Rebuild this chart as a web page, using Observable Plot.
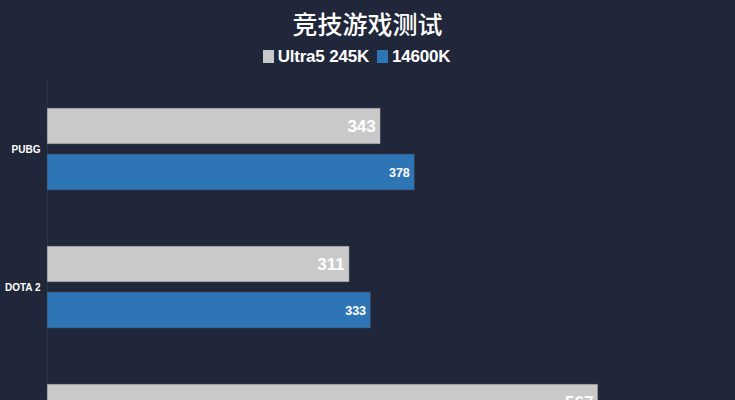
<!DOCTYPE html>
<html>
<head>
<meta charset="utf-8">
<script src="https://cdn.jsdelivr.net/npm/d3@7"></script>
<script src="https://cdn.jsdelivr.net/npm/@observablehq/plot@0.6"></script>
<style>
  html, body { margin: 0; padding: 0; background: #21273a; overflow: hidden; }
  #wrap { width: 735px; font-family: "Liberation Sans", Arial, sans-serif; color: #fff; }
  #title { height: 44px; line-height: 46px; text-align: center; font-size: 25px; font-family: "Noto Sans CJK SC", sans-serif; font-weight: 500; }
  #legend { height: 24px; line-height: 25px; text-align: center; font-size: 17px; font-weight: bold; letter-spacing: -0.2px; padding-right: 22px; }
  .sw { display: inline-block; width: 11px; height: 13px; vertical-align: -1px; margin-right: 4px; }
  .item { margin: 0 4px; }
</style>
</head>
<body>
<div id="wrap">
  <div id="title">竞技游戏测试</div>
  <div id="legend"></div>
  <div id="chart"></div>
</div>
<script>
const categories = ["PUBG", "DOTA 2", "CS2"];
const seriesNames = ["Ultra5 245K", "14600K"];
const ultra5 = [343, 311, 567];
const i14600k = [378, 333, 589];
const colors = ["#c9c9c9", "#2e75b6"];

const data = [];
categories.forEach((c, i) => {
  data.push({category: c, series: seriesNames[0], value: ultra5[i]});
  data.push({category: c, series: seriesNames[1], value: i14600k[i]});
});

const legend = document.getElementById("legend");
seriesNames.forEach((s, i) => {
  const span = document.createElement("span");
  span.className = "item";
  span.innerHTML = `<span class="sw" style="background:${colors[i]}"></span>${s}`;
  legend.appendChild(span);
});

const chart = Plot.plot({
  width: 735,
  height: 436,
  marginTop: 12,
  marginBottom: 10,
  marginLeft: 47,
  marginRight: 105,
  style: {background: "#21273a", color: "#fff", fontFamily: "Liberation Sans, Arial, sans-serif"},
  x: {domain: [0, 600], axis: null},
  y: {domain: seriesNames, axis: null, paddingInner: 10/46, paddingOuter: 28/46},
  fy: {domain: categories, padding: 0, label: null, tickSize: 0, tickPadding: 7},
  color: {domain: seriesNames, range: colors},
  marks: [
    Plot.axisFy({anchor: "left", tickSize: 0, tickPadding: 7, fontSize: 10, fontWeight: "bold", fill: "#fff", label: null}),
    Plot.ruleX([0], {stroke: "#2d3447", strokeWidth: 1}),
    Plot.barX(data, {x: "value", y: "series", fy: "category", fill: "series", stroke: "#3a4052", strokeWidth: 0.6}),
    Plot.text(data.filter(d => d.series === seriesNames[0]), {x: "value", y: "series", fy: "category", text: d => String(d.value), textAnchor: "end", dx: -5, fill: "#fff", fontSize: 17, fontWeight: "bold"}),
    Plot.text(data.filter(d => d.series === seriesNames[1]), {x: "value", y: "series", fy: "category", text: d => String(d.value), textAnchor: "end", dx: -5, fill: "#fff", fontSize: 12.5, fontWeight: "bold"})
  ]
});
document.getElementById("chart").appendChild(chart);
</script>
</body>
</html>
